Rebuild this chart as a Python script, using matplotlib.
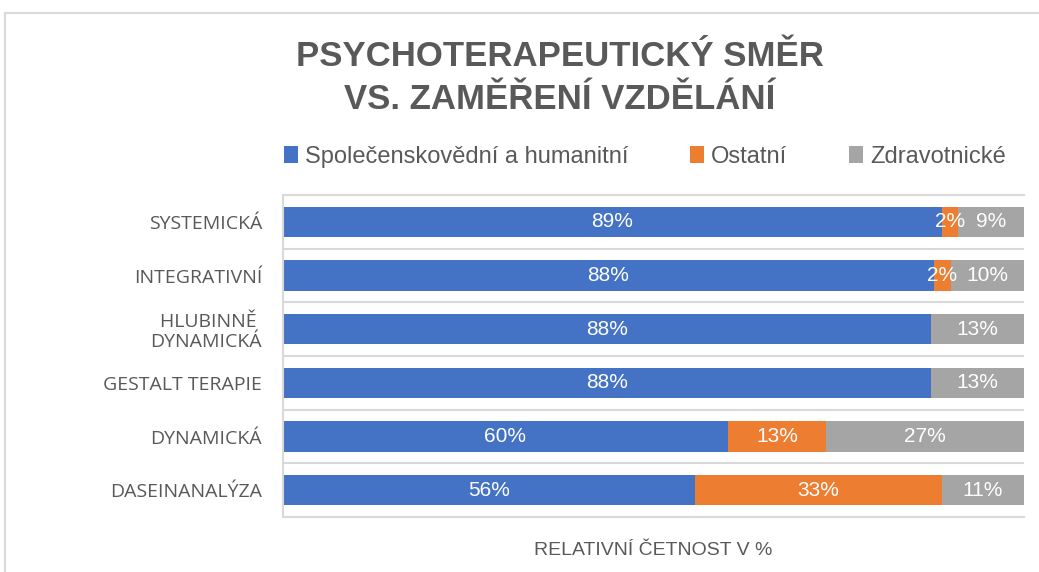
import matplotlib.pyplot as plt
from matplotlib.patches import Rectangle
import numpy as np

# Data (shares in %), top to bottom as in the chart
categories = ["SYSTEMICKÁ", "INTEGRATIVNÍ", "HLUBINNĚ \nDYNAMICKÁ",
              "GESTALT TERAPIE", "DYNAMICKÁ", "DASEINANALÝZA"]
spolecenske = [88.9, 87.8, 87.5, 87.5, 60.0, 55.6]
ostatni = [2.2, 2.4, 0.0, 0.0, 13.3, 33.3]
zdravotnicke = [8.9, 9.8, 12.5, 12.5, 26.7, 11.1]
series_names = ["Společenskovědní a humanitní", "Ostatní", "Zdravotnické"]
colors = ["#4472C4", "#ED7D31", "#A5A5A5"]

sans = ["Liberation Sans", "DejaVu Sans"]
text_gray = "#595959"
grid_gray = "#D9D9D9"

fig = plt.figure(figsize=(10.39, 5.72), dpi=100)
ax = fig.add_axes([283 / 1039, 1 - 517 / 572, 741 / 1039, 322 / 572])

# outer chart border
fig.patches.append(Rectangle((5 / 1039, -0.1), 1.2, 1.1 - 13 / 572, transform=fig.transFigure,
                             fill=False, edgecolor=grid_gray, linewidth=1.5))

y = np.arange(len(categories))
left = np.zeros(len(categories))
handles = []
for vals, name, col in zip([spolecenske, ostatni, zdravotnicke], series_names, colors):
    vals = np.array(vals)
    bars = ax.barh(y, vals, left=left, height=0.56, color=col, label=name)
    handles.append(bars)
    for yi, l, v in zip(y, left, vals):
        if v > 0:
            ax.text(l + v / 2, yi, f"{int(v + 0.5)}%", ha="center", va="center",
                    color="white", fontsize=15, family=sans)
    left = left + vals

ax.set_xlim(0, 100)
ax.set_ylim(len(categories) - 0.5, -0.5)
ax.set_yticks(y)
ax.set_yticklabels(categories, fontsize=14, color=text_gray,
                   family=["Open Sans", "DejaVu Sans"], linespacing=1.15)
ax.set_yticks(np.arange(-0.5, len(categories), 1), minor=True)
ax.tick_params(axis="y", which="both", length=0, pad=15)
ax.set_xticks([])
ax.grid(axis="y", which="minor", color=grid_gray, linewidth=1.5)
ax.set_axisbelow(True)
for sp in ax.spines.values():
    sp.set_color(grid_gray)
    sp.set_linewidth(1.5)
ax.spines["right"].set_visible(False)

ax.set_xlabel("RELATIVNÍ ČETNOST V %", fontsize=14, color=text_gray, family=sans, labelpad=18)

fig.text(560 / 1039, 1 - 56 / 572, "PSYCHOTERAPEUTICKÝ SMĚR", ha="center", va="center",
         fontsize=25, fontweight="bold", color=text_gray, family=sans)
fig.text(560 / 1039, 1 - 99 / 572, "VS. ZAMĚŘENÍ VZDĚLÁNÍ", ha="center", va="center",
         fontsize=25, fontweight="bold", color=text_gray, family=sans)

fig.legend(handles=handles, labels=series_names, loc="center",
           bbox_to_anchor=(645 / 1039, 1 - 157 / 572), ncol=3, frameon=False,
           prop={"family": sans, "size": 17}, handlelength=0.6, handleheight=0.7,
           handletextpad=0.3, columnspacing=2.6, labelcolor=text_gray)

fig.savefig("out.png", dpi=100)
